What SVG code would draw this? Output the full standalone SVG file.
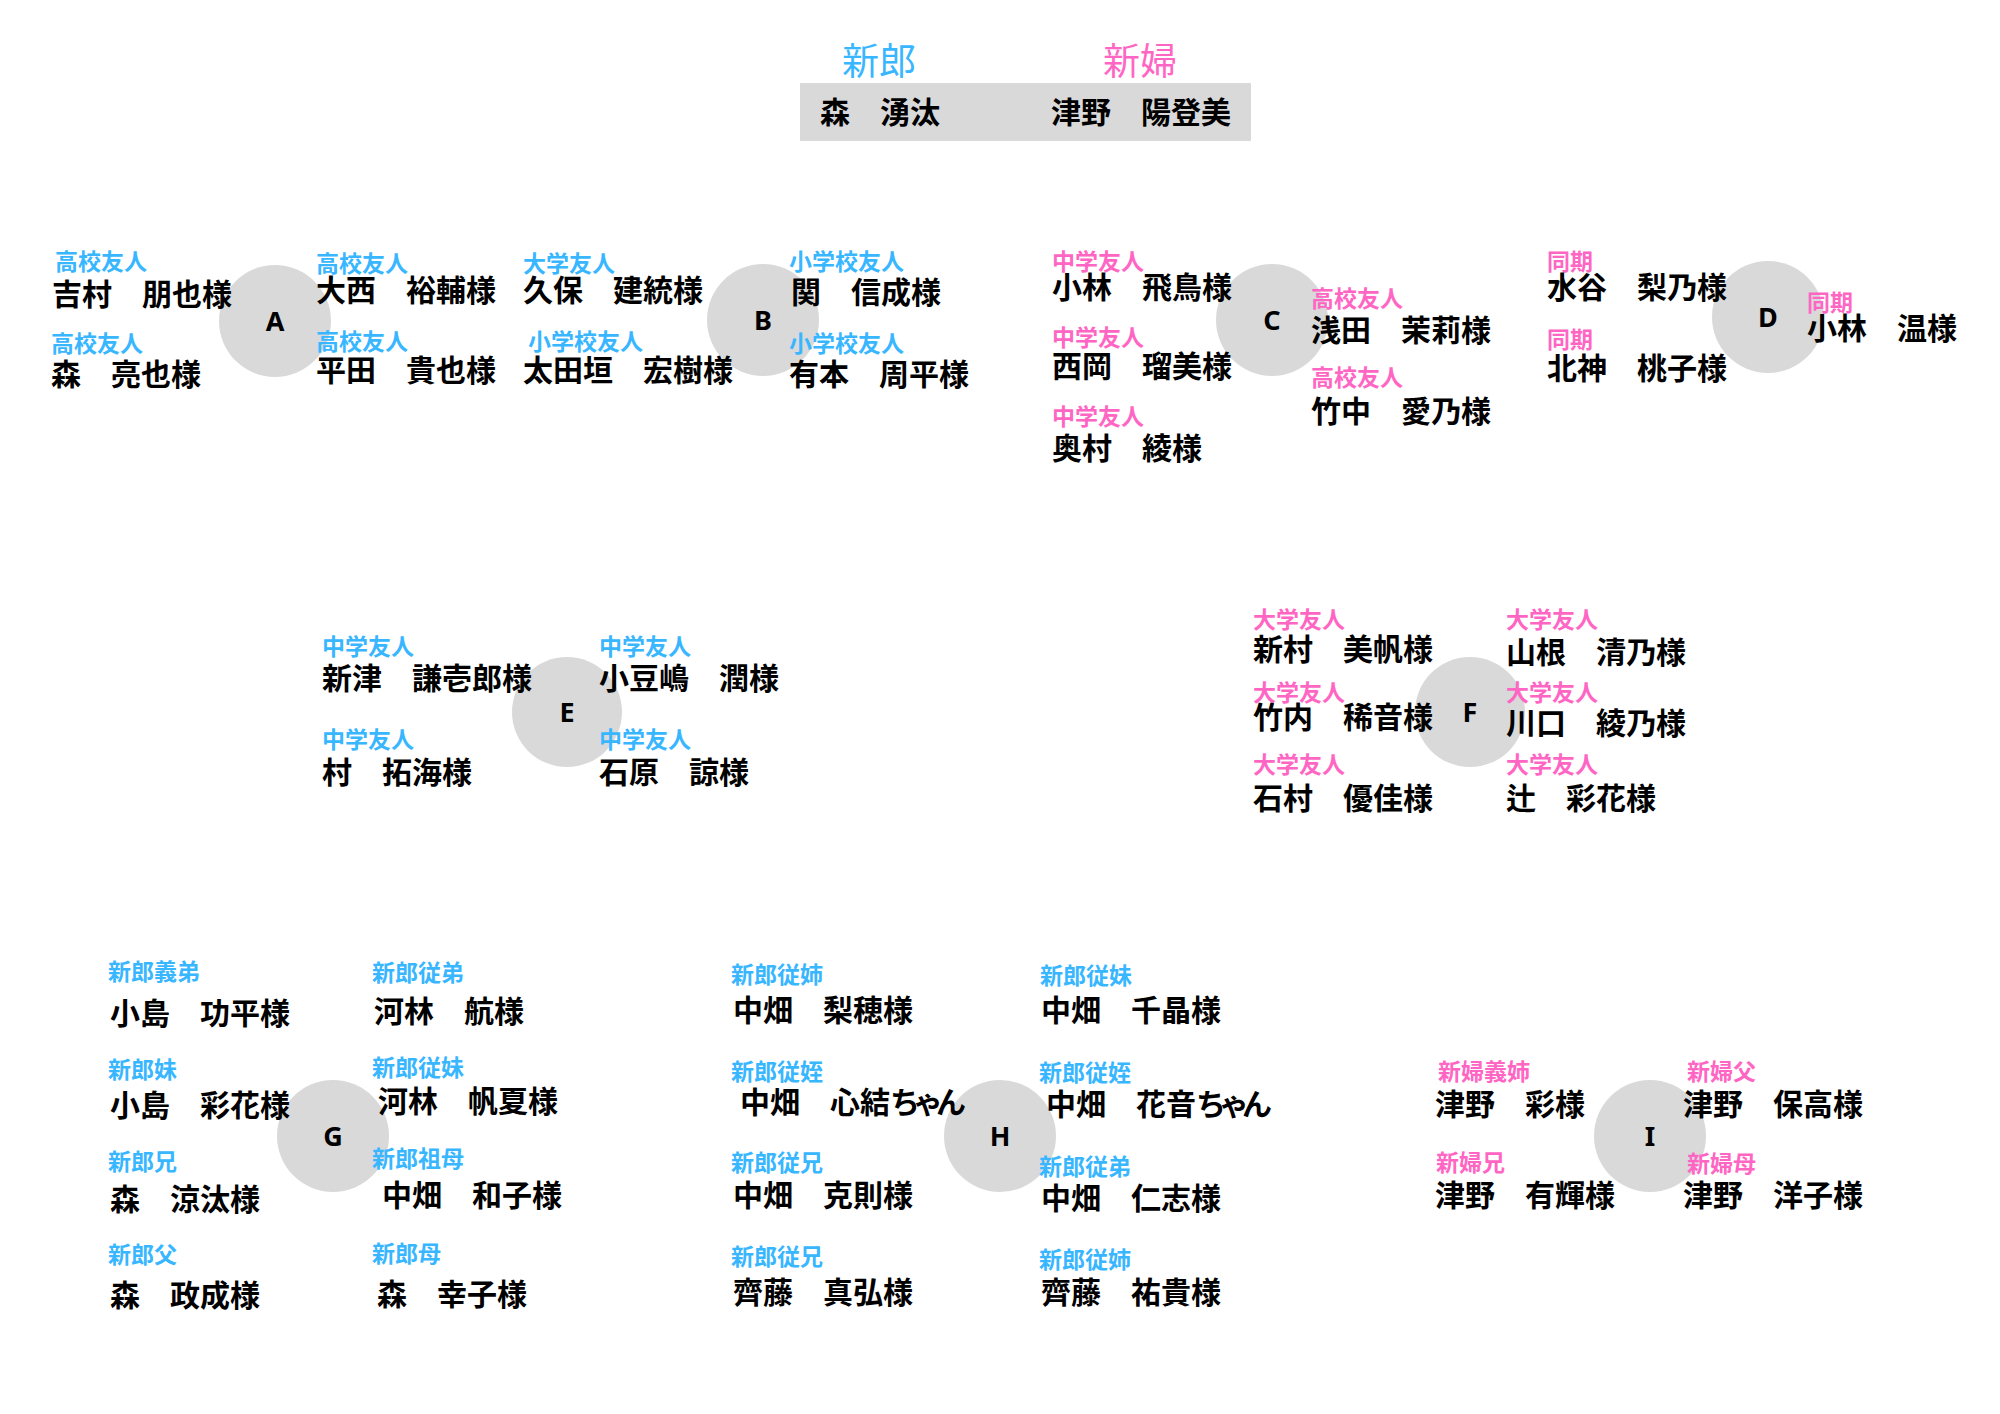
<svg xmlns="http://www.w3.org/2000/svg" width="2000" height="1414" viewBox="0 0 2000 1414">
<style>
text{font-family:"Noto Sans CJK JP","Noto Sans",sans-serif;}
.nm{font-size:30px;font-weight:700;fill:#000;}
.lb{font-size:23px;font-weight:700;fill:#38b6ff;}
.lp{font-size:23px;font-weight:700;fill:#ff66c4;}
.hd{font-size:37px;font-weight:400;}
.kn{letter-spacing:-7px;}
.ct{fill:#d9d9d9;}
.cl{font-family:"Noto Sans","DejaVu Sans",sans-serif;font-size:27px;font-weight:700;fill:#000;text-anchor:middle;}
</style>
<rect width="2000" height="1414" fill="#fff"/>
<g id="connectors"/>

<g id="head">
<text class="hd" x="842" y="75" fill="#38b6ff">新郎</text>
<text class="hd" x="1103" y="75" fill="#ff66c4">新婦</text>
<rect x="800" y="83" width="451" height="58" fill="#d9d9d9"/>
<text class="nm" x="820" y="123">森　湧汰</text>
<text class="nm" x="1051" y="123">津野　陽登美</text>
</g>

<g id="table-A">
<circle class="ct" cx="275" cy="321" r="56"/>
<text class="cl" x="275" y="331">A</text>
<text class="lb" x="55" y="270">高校友人</text>
<text class="nm" x="52" y="305">吉村　朋也様</text>
<text class="lb" x="51" y="352">高校友人</text>
<text class="nm" x="51" y="385">森　亮也様</text>
<text class="lb" x="316" y="272">高校友人</text>
<text class="nm" x="316" y="301">大西　裕輔様</text>
<text class="lb" x="316" y="350">高校友人</text>
<text class="nm" x="316" y="381">平田　貴也様</text>
</g>

<g id="table-B">
<circle class="ct" cx="763" cy="320" r="56"/>
<text class="cl" x="763" y="330">B</text>
<text class="lb" x="523" y="272">大学友人</text>
<text class="nm" x="523" y="301">久保　建統様</text>
<text class="lb" x="528" y="350">小学校友人</text>
<text class="nm" x="523" y="381">太田垣　宏樹様</text>
<text class="lb" x="789" y="270">小学校友人</text>
<text class="nm" x="791" y="303">関　信成様</text>
<text class="lb" x="789" y="352">小学校友人</text>
<text class="nm" x="789" y="385">有本　周平様</text>
</g>

<g id="table-C">
<circle class="ct" cx="1272" cy="320" r="56"/>
<text class="cl" x="1272" y="330">C</text>
<text class="lp" x="1052" y="270">中学友人</text>
<text class="nm" x="1052" y="298">小林　飛鳥様</text>
<text class="lp" x="1052" y="346">中学友人</text>
<text class="nm" x="1052" y="377">西岡　瑠美様</text>
<text class="lp" x="1052" y="425">中学友人</text>
<text class="nm" x="1052" y="459">奥村　綾様</text>
<text class="lp" x="1311" y="307">高校友人</text>
<text class="nm" x="1311" y="341">浅田　茉莉様</text>
<text class="lp" x="1311" y="386">高校友人</text>
<text class="nm" x="1311" y="422">竹中　愛乃様</text>
</g>

<g id="table-D">
<circle class="ct" cx="1768" cy="317" r="56"/>
<text class="cl" x="1768" y="327">D</text>
<text class="lp" x="1547" y="270">同期</text>
<text class="nm" x="1547" y="298">水谷　梨乃様</text>
<text class="lp" x="1547" y="348">同期</text>
<text class="nm" x="1547" y="379">北神　桃子様</text>
<text class="lp" x="1807" y="311">同期</text>
<text class="nm" x="1807" y="339">小林　温様</text>
</g>

<g id="table-E">
<circle class="ct" cx="567" cy="712" r="55"/>
<text class="cl" x="567" y="722">E</text>
<text class="lb" x="322" y="655">中学友人</text>
<text class="nm" x="322" y="689">新津　謙壱郎様</text>
<text class="lb" x="322" y="748">中学友人</text>
<text class="nm" x="322" y="783">村　拓海様</text>
<text class="lb" x="599" y="655">中学友人</text>
<text class="nm" x="599" y="689">小豆嶋　潤様</text>
<text class="lb" x="599" y="748">中学友人</text>
<text class="nm" x="599" y="783">石原　諒様</text>
</g>

<g id="table-F">
<circle class="ct" cx="1470" cy="712" r="55"/>
<text class="cl" x="1470" y="722">F</text>
<text class="lp" x="1253" y="628">大学友人</text>
<text class="nm" x="1253" y="660">新村　美帆様</text>
<text class="lp" x="1253" y="701">大学友人</text>
<text class="nm" x="1253" y="728">竹内　稀音様</text>
<text class="lp" x="1253" y="773">大学友人</text>
<text class="nm" x="1253" y="809">石村　優佳様</text>
<text class="lp" x="1506" y="628">大学友人</text>
<text class="nm" x="1506" y="663">山根　清乃様</text>
<text class="lp" x="1506" y="701">大学友人</text>
<text class="nm" x="1506" y="734">川口　綾乃様</text>
<text class="lp" x="1506" y="773">大学友人</text>
<text class="nm" x="1506" y="809">辻　彩花様</text>
</g>

<g id="table-G">
<circle class="ct" cx="333" cy="1136" r="56"/>
<text class="cl" x="333" y="1146">G</text>
<text class="lb" x="108" y="980">新郎義弟</text>
<text class="nm" x="110" y="1024">小島　功平様</text>
<text class="lb" x="108" y="1078">新郎妹</text>
<text class="nm" x="110" y="1116">小島　彩花様</text>
<text class="lb" x="108" y="1170">新郎兄</text>
<text class="nm" x="110" y="1210">森　涼汰様</text>
<text class="lb" x="108" y="1263">新郎父</text>
<text class="nm" x="110" y="1306">森　政成様</text>
<text class="lb" x="372" y="981">新郎従弟</text>
<text class="nm" x="374" y="1022">河林　航様</text>
<text class="lb" x="372" y="1076">新郎従妹</text>
<text class="nm" x="378" y="1112">河林　帆夏様</text>
<text class="lb" x="372" y="1167">新郎祖母</text>
<text class="nm" x="382" y="1206">中畑　和子様</text>
<text class="lb" x="372" y="1262">新郎母</text>
<text class="nm" x="377" y="1305">森　幸子様</text>
</g>

<g id="table-H">
<circle class="ct" cx="1000" cy="1136" r="56"/>
<text class="cl" x="1000" y="1146">H</text>
<text class="lb" x="731" y="983">新郎従姉</text>
<text class="nm" x="733" y="1021">中畑　梨穂様</text>
<text class="lb" x="731" y="1080">新郎従姪</text>
<text class="nm" x="740" y="1113">中畑　心結<tspan class="kn">ちゃん</tspan></text>
<text class="lb" x="731" y="1171">新郎従兄</text>
<text class="nm" x="733" y="1206">中畑　克則様</text>
<text class="lb" x="731" y="1265">新郎従兄</text>
<text class="nm" x="733" y="1303">齊藤　真弘様</text>
<text class="lb" x="1040" y="984">新郎従妹</text>
<text class="nm" x="1041" y="1021">中畑　千晶様</text>
<text class="lb" x="1039" y="1081">新郎従姪</text>
<text class="nm" x="1046" y="1115">中畑　花音<tspan class="kn">ちゃん</tspan></text>
<text class="lb" x="1039" y="1175">新郎従弟</text>
<text class="nm" x="1041" y="1209">中畑　仁志様</text>
<text class="lb" x="1039" y="1268">新郎従姉</text>
<text class="nm" x="1041" y="1303">齊藤　祐貴様</text>
</g>

<g id="table-I">
<circle class="ct" cx="1650" cy="1136" r="56"/>
<text class="cl" x="1650" y="1146">I</text>
<text class="lp" x="1438" y="1080">新婦義姉</text>
<text class="nm" x="1435" y="1115">津野　彩様</text>
<text class="lp" x="1436" y="1171">新婦兄</text>
<text class="nm" x="1435" y="1206">津野　有輝様</text>
<text class="lp" x="1687" y="1080">新婦父</text>
<text class="nm" x="1683" y="1115">津野　保高様</text>
<text class="lp" x="1687" y="1172">新婦母</text>
<text class="nm" x="1683" y="1206">津野　洋子様</text>
</g>
</svg>
